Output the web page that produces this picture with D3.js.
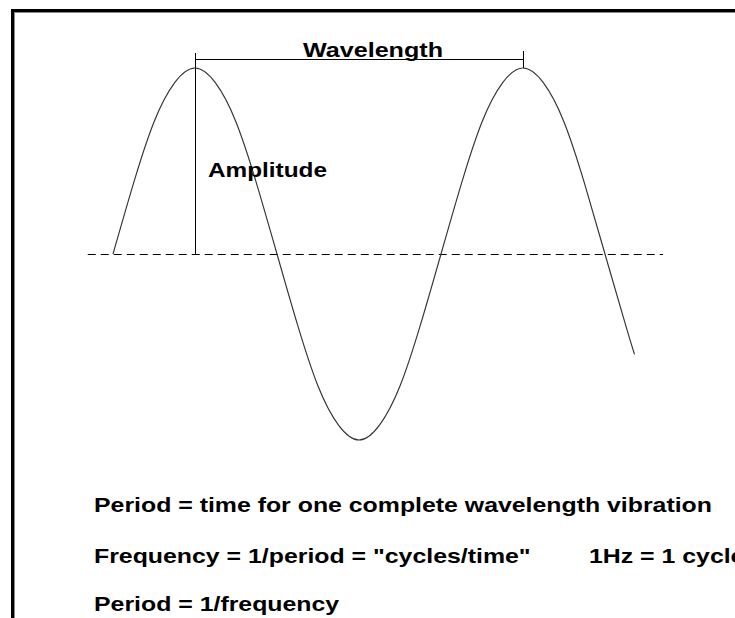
<!DOCTYPE html>
<html><head><meta charset="utf-8">
<script src="https://cdn.jsdelivr.net/npm/d3@7"></script>
<style>body{margin:0;background:#fff}svg{display:block}text{font-family:"Liberation Sans",Arial,sans-serif;font-weight:bold;fill:#000}</style>
</head><body>
<script>
// wave position in wavelengths (0 = first upward zero crossing) and displacement (amplitude = 1)
const wavePhase = [0,0.0625,0.125,0.1875,0.25,0.3125,0.375,0.4375,0.5,0.5625,0.625,0.6875,0.75,0.8125,0.875,0.9375,1,1.0625,1.125,1.1875,1.25,1.3125,1.375,1.4375,1.5,1.5625,1.59];
const waveDisp  = [0,0.38,0.71,0.92,1,0.92,0.71,0.38,0,-0.38,-0.71,-0.92,-1,-0.92,-0.71,-0.38,0,0.38,0.71,0.92,1,0.92,0.71,0.38,0,-0.38,-0.54];
const baselineRange = [-0.077, 1.677];
const peakPhases = [0.25, 1.25];
const labels = ["Wavelength","Amplitude"];
const notes = ["Period = time for one complete wavelength vibration",
               "Frequency = 1/period = \"cycles/time\"",
               "Period = 1/frequency"];
const note2b = "1Hz = 1 cycle";

const W=735,H=618;
const svg=d3.select("body").append("svg").attr("width",W).attr("height",H);
const x=d3.scaleLinear().domain([0,1]).range([113,441]);
const y=d3.scaleLinear().domain([-1,1]).range([440,68]);

// frame
svg.append("rect").attr("x",11).attr("y",9).attr("width",W).attr("height",3).attr("fill","#000");
svg.append("rect").attr("x",11).attr("y",9).attr("width",3).attr("height",H).attr("fill","#000");
svg.append("rect").attr("x",14).attr("y",12).attr("width",W).attr("height",1).attr("fill","#888");
svg.append("rect").attr("x",14).attr("y",12).attr("width",1).attr("height",H).attr("fill","#888");

// dashed baseline
svg.append("line").attr("x1",x(baselineRange[0])).attr("x2",x(baselineRange[1]))
  .attr("y1",y(0)+0.5).attr("y2",y(0)+0.5).attr("stroke","#000").attr("stroke-width",1)
  .attr("stroke-dasharray","8,5");

// amplitude line
svg.append("line").attr("x1",x(peakPhases[0])+0.5).attr("x2",x(peakPhases[0])+0.5)
  .attr("y1",y(1)-15).attr("y2",y(0)).attr("stroke","#000").attr("stroke-width",1);
// wavelength line
svg.append("line").attr("x1",x(peakPhases[0])).attr("x2",x(peakPhases[1]))
  .attr("y1",y(1)-8.5).attr("y2",y(1)-8.5).attr("stroke","#000").attr("stroke-width",1);
svg.append("line").attr("x1",x(peakPhases[1])+0.5).attr("x2",x(peakPhases[1])+0.5)
  .attr("y1",y(1)-17).attr("y2",y(1)).attr("stroke","#000").attr("stroke-width",1);

// wave
const pts=wavePhase.map((p,i)=>[p,waveDisp[i]]);
svg.append("path").datum(pts)
  .attr("d",d3.line().x(d=>x(d[0])).y(d=>y(d[1])).curve(d3.curveNatural))
  .attr("fill","none").attr("stroke","#333").attr("stroke-width",1.15);

const FS=21;
function natural(txt,fs){
  const t=svg.append("text").attr("font-size",fs).text(txt);
  const w=t.node().getComputedTextLength(); t.remove(); return w;
}
// common horizontal stretch, taken from the first note line (94 → 712)
const k=618/natural(notes[0],FS);
function label(txt,x0,y0,anchor,fs,len){
  fs=fs||FS;
  return svg.append("text").attr("x",x0).attr("y",y0).attr("font-size",fs)
    .attr("text-anchor",anchor||"start")
    .attr("textLength",len||natural(txt,fs)*k).attr("lengthAdjust","spacingAndGlyphs").text(txt);
}
label(labels[0],373,57,"middle",20,140);
label(labels[1],208,177,"start",20,119);
label(notes[0],94,512);
label(notes[1],94,563);
label(note2b,589,563);
label(notes[2],94,611);
</script>
</body></html>
